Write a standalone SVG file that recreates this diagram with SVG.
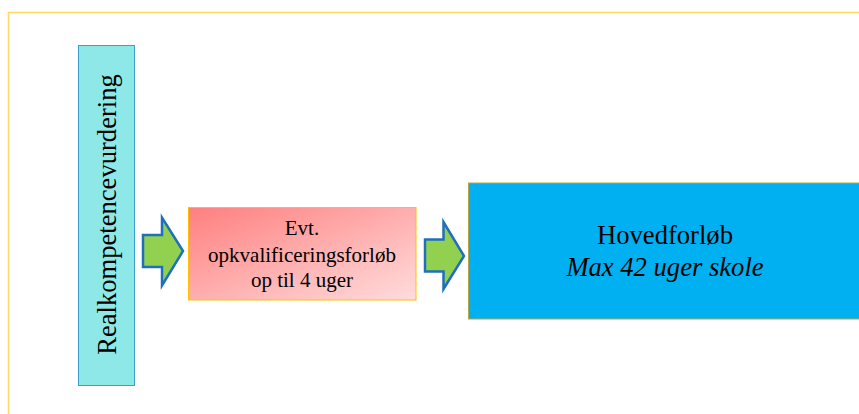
<svg xmlns="http://www.w3.org/2000/svg" width="859" height="414" viewBox="0 0 859 414">
<style>
.t{font-family:"Liberation Serif","Times New Roman",serif;fill:#000;text-anchor:middle}
.arr{fill:#92D050;stroke:#1F6FBF;stroke-width:2.5;stroke-linejoin:miter}
</style>
<defs>
<linearGradient id="pg" x1="0" y1="0" x2="1" y2="1">
<stop offset="0" stop-color="#FF7F7F"/>
<stop offset="1" stop-color="#FFDCDC"/>
</linearGradient>
</defs>
<rect width="859" height="414" fill="#fff"/>
<path d="M8.5,420 V12.5 H870" fill="none" stroke="#FFD966" stroke-width="1.5"/>
<g id="realkompetence">
<rect x="78.5" y="45.5" width="56" height="340" fill="#8EE8E8" stroke="#3C9FD0" stroke-width="1"/>
<text class="t" transform="translate(115.5,214.5) rotate(-90)" font-size="26.6">Realkompetencevurdering</text>
</g>
<g id="connectors">
<polygon class="arr" points="143,235 162,235 162,217.5 183,251 162,285.5 162,267 143,267"/>
<polygon class="arr" points="425,239.5 443.5,239.5 443.5,222 464,256 443.5,289 443.5,271.5 425,271.5"/>
</g>
<g id="opkvalificering">
<rect x="188.5" y="207.5" width="227.5" height="92.5" fill="url(#pg)" stroke="#FFC000" stroke-width="1"/>
<text class="t" font-size="21" x="302" y="235">Evt.</text>
<text class="t" font-size="21" x="302" y="261.5">opkvalificeringsforløb</text>
<text class="t" font-size="21" x="302" y="286.5">op til 4 uger</text>
</g>
<g id="hovedforloeb">
<rect x="468.5" y="183" width="400" height="136" fill="#00B0F0" stroke="#B5A642" stroke-width="1"/>
<text class="t" font-size="26.6" x="665" y="244">Hovedforløb</text>
<text class="t" font-size="26.6" font-style="italic" x="665" y="276">Max 42 uger skole</text>
</g>
</svg>
